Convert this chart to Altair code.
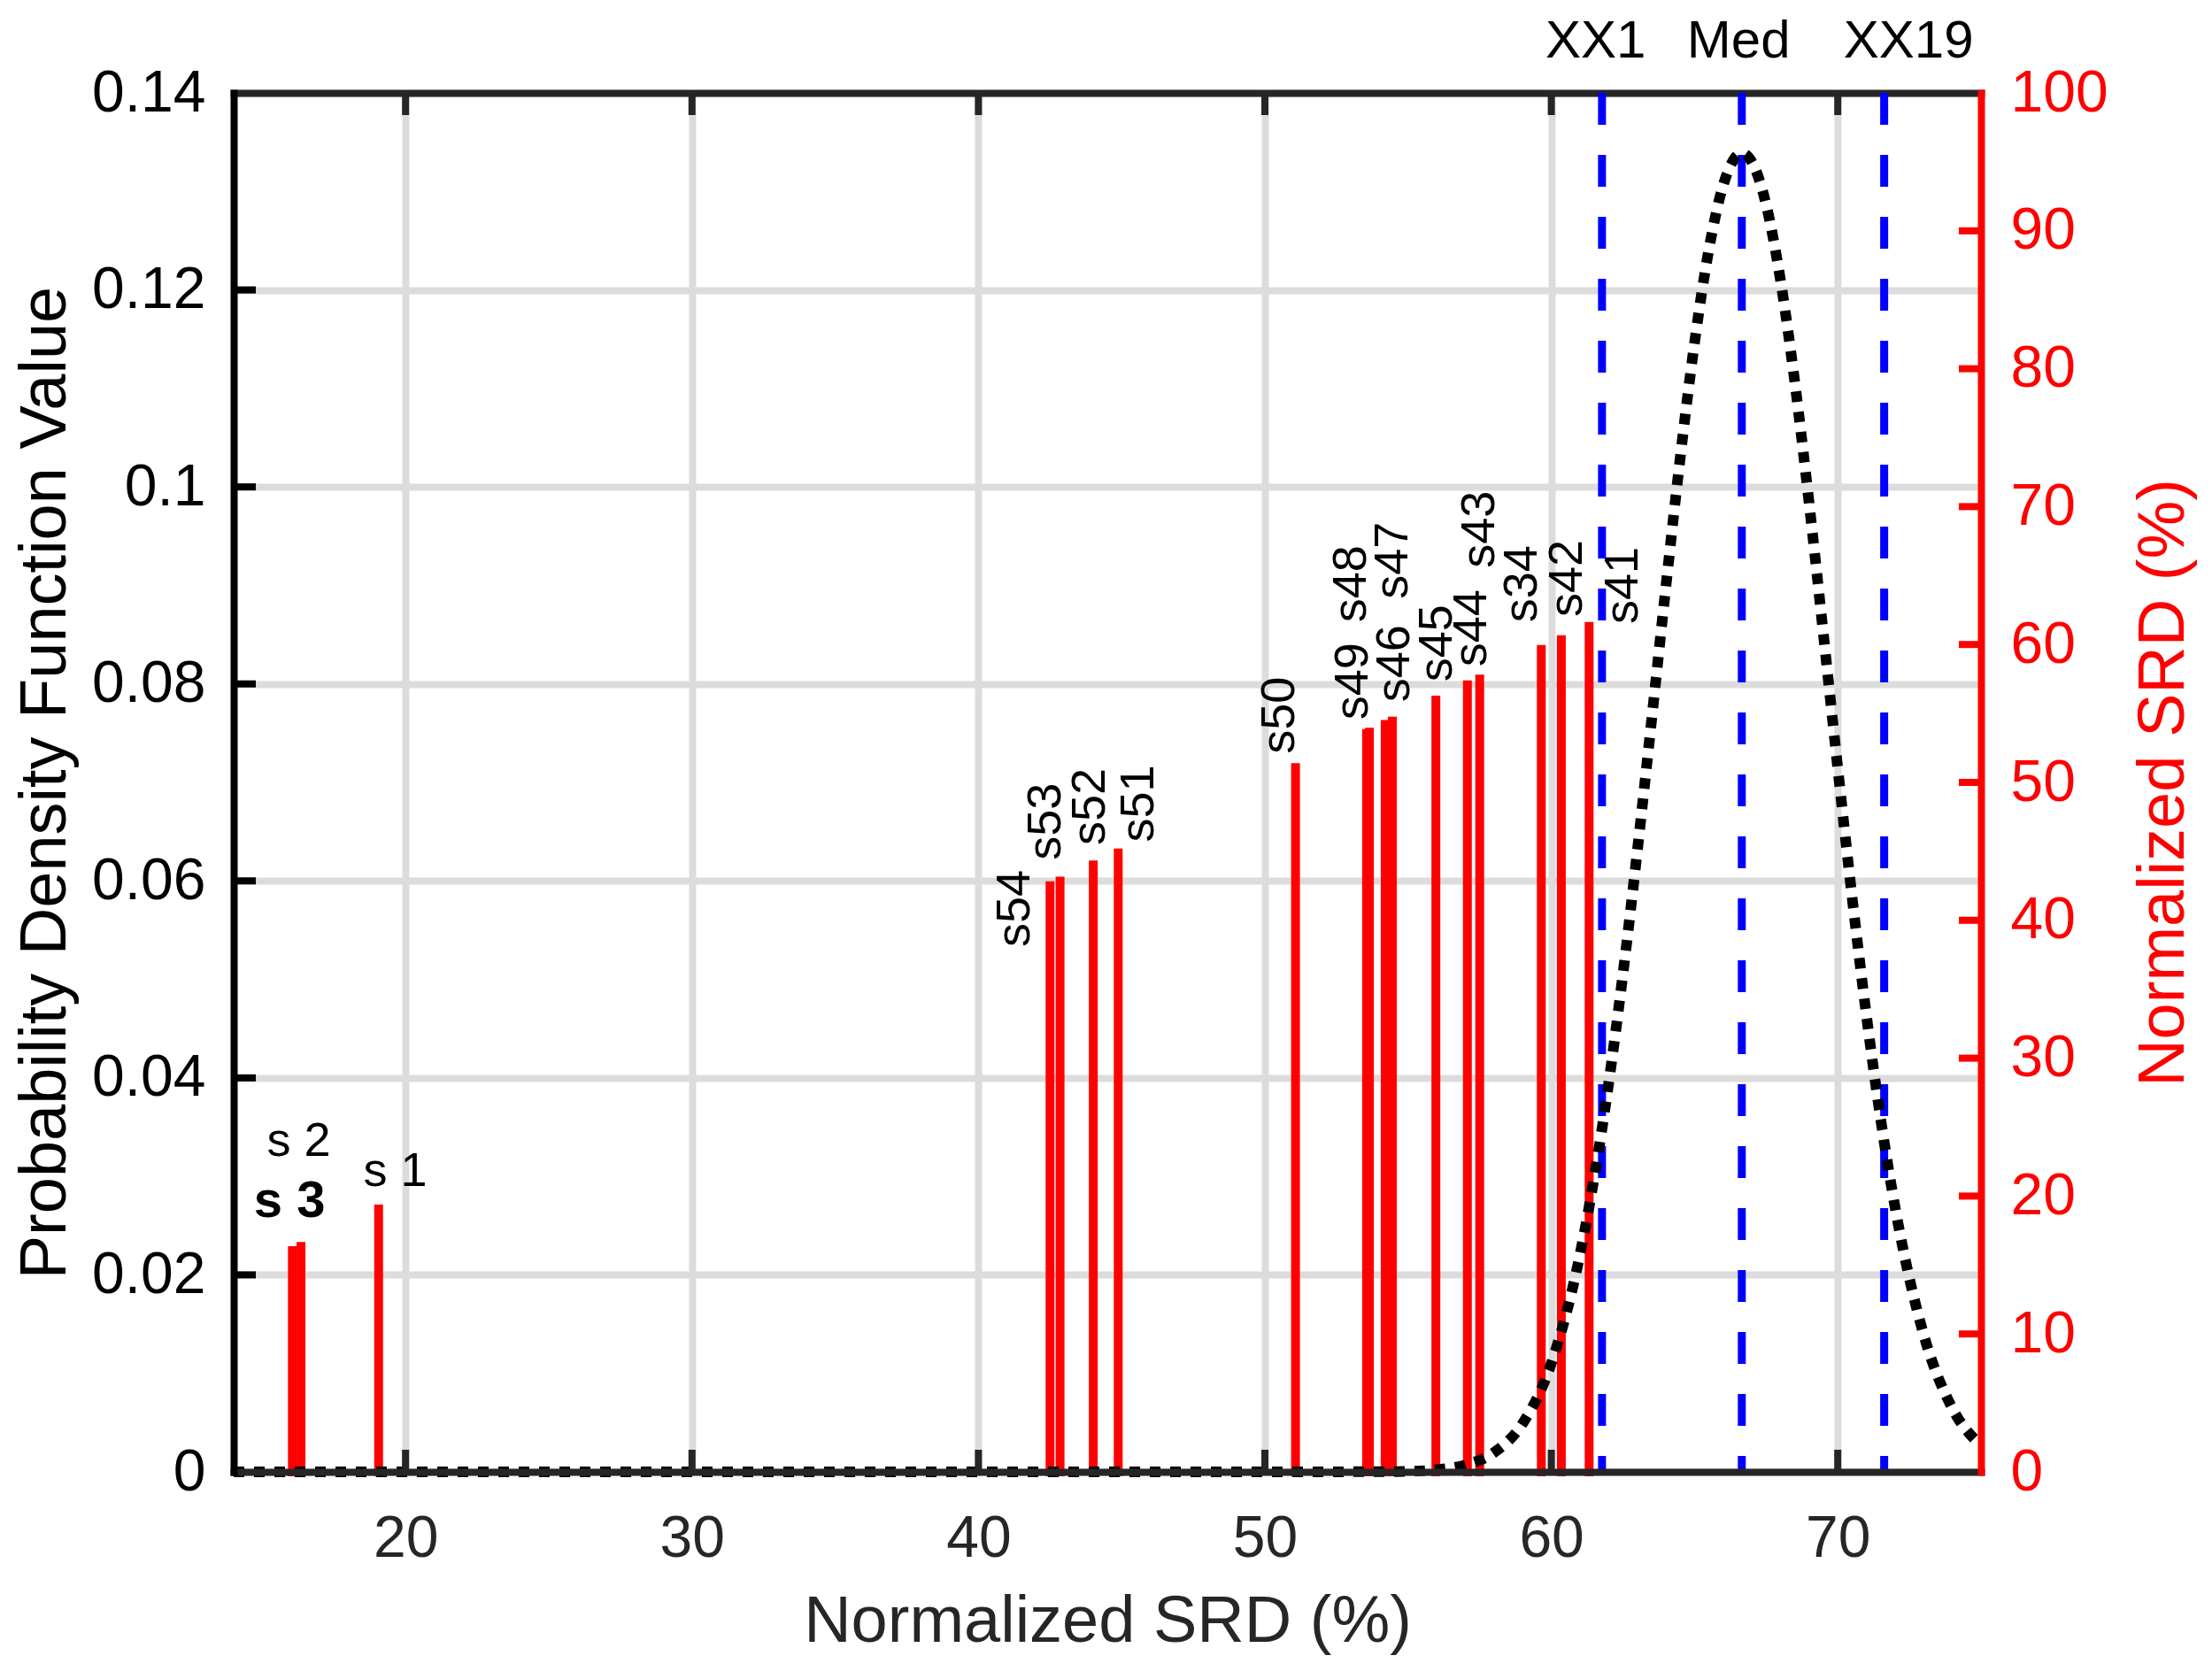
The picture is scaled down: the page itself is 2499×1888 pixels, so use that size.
import altair as alt
import pandas as pd

FONT = "Liberation Sans"
W, H = 1974, 1558
GRID = "#dcdcdc"
DARK = "#262626"

# ---------------- data ----------------
bar_names = ["s3", "s2", "s1", "s54", "s53", "s52", "s51", "s50", "s49", "s48",
             "s46", "s47", "s45", "s44", "s43", "s34", "s42", "s41"]
bar_srd = [16.05, 16.35, 19.06, 42.50, 42.85, 44.01, 44.88, 51.07, 53.55, 53.65,
           54.20, 54.45, 55.97, 57.07, 57.50, 59.65, 60.35, 61.32]

rot_label_text = ["s54", "s53", "s52", "s51", "s50", "s49", "s48", "s46", "s47",
                  "s45", "s44", "s43", "s34", "s42", "s41"]
rot_label_x = [41.29, 42.37, 43.92, 45.62, 50.52, 53.09, 53.04, 54.53, 54.48,
               56.03, 57.23, 57.52, 58.99, 60.56, 62.52]
rot_label_y = [38.06, 44.37, 45.44, 45.66, 52.07, 54.54, 61.60, 55.82, 63.30,
               57.30, 58.39, 65.55, 61.60, 62.00, 61.49]

flat_label_text = ["s 2", "s 1"]
flat_label_x = [16.27, 19.64]
flat_label_y = [22.9, 20.7]
bold_label_text = ["s 3"]
bold_label_x = [15.95]
bold_label_y = [18.5]

pdf_x = [14, 20, 30, 40, 50, 54, 55, 56, 57, 58, 59, 60, 61, 62, 62.5, 63, 63.5, 64,
         64.5, 65, 65.5, 66, 66.5, 66.66, 67, 67.5, 68, 68.5, 69, 69.5, 70, 70.5,
         71, 71.5, 72, 73, 74, 75]
pdf_y = [0, 0, 0, 0, 0, 0.00002, 0.00006, 0.00022, 0.00070, 0.00196, 0.00492,
         0.01102, 0.02206, 0.03941, 0.05052, 0.06297, 0.07630, 0.08988, 0.10295,
         0.11463, 0.12410, 0.13063, 0.13368, 0.13387, 0.13300, 0.12866, 0.12100,
         0.11064, 0.09836, 0.08501, 0.07144, 0.05837, 0.04636, 0.03579, 0.02688,
         0.01393, 0.00645, 0.00267]

ref_names = ["XX1", "Med", "XX19"]
ref_x = [61.77, 66.65, 71.62]
ref_label_x = [61.55, 66.54, 72.47]

x_ticks = [20, 30, 40, 50, 60, 70]
left_ticks = [0, 0.02, 0.04, 0.06, 0.08, 0.1, 0.12, 0.14]
right_ticks = [0, 10, 20, 30, 40, 50, 60, 70, 80, 90, 100]

# ---------------- tables ----------------
bars_df = pd.DataFrame({"name": bar_names, "srd": bar_srd})
rot_df = pd.DataFrame({"t": rot_label_text, "lx": rot_label_x, "ly": rot_label_y})
flat_df = pd.DataFrame({"t": flat_label_text, "lx": flat_label_x, "ly": flat_label_y})
bold_df = pd.DataFrame({"t": bold_label_text, "lx": bold_label_x, "ly": bold_label_y})
curve_df = pd.DataFrame({"x": pdf_x, "pdf": pdf_y})
ref_df = pd.DataFrame({"name": ref_names, "vx": ref_x, "lx": ref_label_x})
xt_df = pd.DataFrame({"xt": x_ticks[:]})
lt_df = pd.DataFrame({"yt": left_ticks[1:-1]})
rt_df = pd.DataFrame({"rt": right_ticks[1:-1]})

xscale = alt.Scale(domain=[14, 75], nice=False, zero=False)
lscale = alt.Scale(domain=[0, 0.14], nice=False)
rscale = alt.Scale(domain=[0, 100], nice=False)

# ---------------- grid layer (behind everything) ----------------
grid = alt.Chart(curve_df).mark_point(opacity=0).encode(
    x=alt.X("x:Q", scale=xscale,
            axis=alt.Axis(orient="top", values=x_ticks, grid=True, gridColor=GRID,
                          gridWidth=8, labels=False, ticks=False, tickSize=0,
                          domain=True, domainColor=DARK, domainWidth=8,
                          domainCap="square", title=None)),
    y=alt.Y("pdf:Q", scale=lscale,
            axis=alt.Axis(orient="left", values=left_ticks, grid=True, gridColor=GRID,
                          gridWidth=8, labels=False, ticks=False, tickSize=0,
                          domain=False, title=None)),
)

# ---------------- right-axis layer (bars + labels) ----------------
x_main_axis = alt.Axis(orient="bottom", values=x_ticks, grid=False, ticks=False,
                       tickSize=0, domain=True, domainColor=DARK, domainWidth=8,
                       domainCap="square", labelFont=FONT, labelFontSize=66,
                       labelColor=DARK, labelPadding=43, labelFlush=False,
                       title="Normalized SRD (%)", titleFont=FONT, titleFontSize=74,
                       titleColor=DARK, titleFontWeight="normal", titleX=W / 2,
                       titleY=191, titleBaseline="alphabetic", titleAlign="center",
                       zindex=1)
right_axis = alt.Axis(orient="right", values=right_ticks, grid=False, ticks=False,
                      tickSize=0, domain=True, domainColor="#ff0000", domainWidth=8,
                      domainCap="square", labelFont=FONT, labelFontSize=66,
                      labelColor="#ff0000", labelPadding=33,
                      title="Normalized SRD (%)", titleFont=FONT, titleFontSize=74,
                      titleColor="#ff0000", titleFontWeight="normal", titleAngle=270,
                      titleX=228, titleY=H / 2, titleBaseline="alphabetic",
                      titleAlign="center", zindex=1)


def xr(field):
    return alt.X(field, type="quantitative", scale=xscale, axis=x_main_axis)


def yr(field):
    return alt.Y(field, type="quantitative", scale=rscale, axis=right_axis)


bars = alt.Chart(bars_df).mark_rule(color="#ff0000", strokeWidth=10, strokeCap="square").encode(
    x=xr("srd"), y=yr("srd"), y2=alt.datum(0)
)
rot_text = alt.Chart(rot_df).mark_text(
    angle=270, align="left", baseline="middle", font=FONT, fontSize=54, color="black"
).encode(x=xr("lx"), y=yr("ly"), text="t:N")
flat_text = alt.Chart(flat_df).mark_text(
    align="center", baseline="alphabetic", font=FONT, fontSize=54, color="black"
).encode(x=xr("lx"), y=yr("ly"), text="t:N")
bold_text = alt.Chart(bold_df).mark_text(
    align="center", baseline="alphabetic", font=FONT, fontSize=58, fontWeight="bold",
    color="black"
).encode(x=xr("lx"), y=yr("ly"), text="t:N")
rticks = alt.Chart(rt_df).mark_rule(color="#ff0000", strokeWidth=8).encode(
    y=yr("rt"), x=alt.value(W - 25), x2=alt.value(W)
)
right_layer = alt.layer(bars, rot_text, flat_text, bold_text, rticks)

# ---------------- left-axis layer (pdf curve, reference lines) ----------------
left_axis = alt.Axis(orient="left", values=left_ticks, format="~g", grid=False,
                     ticks=False, tickSize=0, domain=True, domainColor="black",
                     domainWidth=8, domainCap="square", labelFont=FONT,
                     labelFontSize=66, labelColor="black", labelPadding=32,
                     title="Probability Density Function Value", titleFont=FONT,
                     titleFontSize=74, titleColor="black", titleFontWeight="normal",
                     titleAngle=270, titleX=-191, titleY=H / 2,
                     titleBaseline="alphabetic", titleAlign="center", zindex=1)


def xl(field):
    return alt.X(field, type="quantitative", scale=xscale, axis=None)


def yl(field):
    return alt.Y(field, type="quantitative", scale=lscale, axis=left_axis)


vlines = alt.Chart(ref_df).mark_rule(color="#0000ff", strokeWidth=9, strokeDash=[36, 34]).encode(
    x=xl("vx"), y=alt.datum(0.14), y2=alt.datum(0)
)
curve = alt.Chart(curve_df).mark_line(
    color="black", strokeWidth=12, strokeDash=[12, 11], interpolate="monotone"
).encode(x=xl("x"), y=yl("pdf"))
ref_text = alt.Chart(ref_df).mark_text(
    align="center", baseline="alphabetic", font=FONT, fontSize=60, color="black"
).encode(x=xl("lx"), y=alt.value(-40), text="name:N")
lticks = alt.Chart(lt_df).mark_rule(color="black", strokeWidth=8).encode(
    y=yl("yt"), x=alt.value(0), x2=alt.value(25)
)
bticks = alt.Chart(xt_df).mark_rule(color=DARK, strokeWidth=8).encode(
    x=xl("xt"), y=alt.value(H - 25), y2=alt.value(H)
)
tticks = alt.Chart(xt_df).mark_rule(color=DARK, strokeWidth=8).encode(
    x=xl("xt"), y=alt.value(0), y2=alt.value(25)
)
left_layer = alt.layer(vlines, curve, ref_text, lticks, bticks, tticks)

chart = alt.layer(grid, right_layer, left_layer).resolve_scale(
    x="independent", y="independent"
).properties(
    width=W, height=H,
    autosize=alt.AutoSizeParams(type="none"),
    padding={"left": 256, "top": 97, "right": 250, "bottom": 210},
    background="white",
).configure_view(strokeWidth=0)

chart.save("out.html", embed_options={"renderer": "svg", "actions": False})
